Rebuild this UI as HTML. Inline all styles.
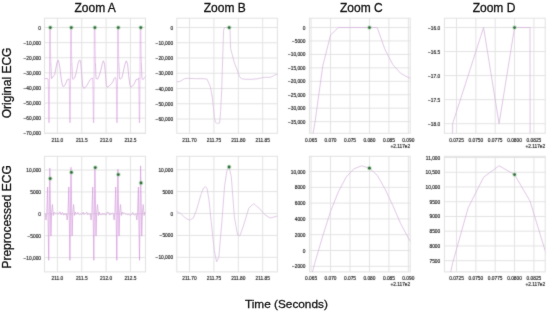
<!DOCTYPE html>
<html><head><meta charset="utf-8"><style>
html,body{margin:0;padding:0;background:#fff;width:550px;height:313px;overflow:hidden}
svg{display:block}
.tk{font-family:"Liberation Sans",sans-serif;font-size:4.8px;fill:#1a1a1a;stroke:#1a1a1a;stroke-width:0.15px}
.tt{font-family:"Liberation Sans",sans-serif;font-size:12px;fill:#111;stroke:#111;stroke-width:0.3px}
</style></head><body>
<svg width="550" height="313" viewBox="0 0 550 313">
<defs><filter id="bl2" x="0" y="0" width="550" height="313" filterUnits="userSpaceOnUse" color-interpolation-filters="sRGB"><feConvolveMatrix order="3" kernelMatrix="0.01 0.05 0.01 0.05 0.76 0.05 0.01 0.05 0.01" divisor="1" edgeMode="duplicate"/></filter><filter id="bl" x="0" y="0" width="550" height="313" filterUnits="userSpaceOnUse" color-interpolation-filters="sRGB"><feConvolveMatrix order="3" kernelMatrix="0.02 0.08 0.02 0.08 0.6 0.08 0.02 0.08 0.02" divisor="1" edgeMode="duplicate"/></filter><clipPath id="cA1"><rect x="44.5" y="18.2" width="101" height="115.1"/></clipPath><clipPath id="cB1"><rect x="176.8" y="18.2" width="100.6" height="115.1"/></clipPath><clipPath id="cC1"><rect x="309.4" y="18.2" width="100.8" height="115.1"/></clipPath><clipPath id="cD1"><rect x="444.4" y="18.2" width="100.8" height="115.1"/></clipPath><clipPath id="cA2"><rect x="44.5" y="156.3" width="101" height="115.6"/></clipPath><clipPath id="cB2"><rect x="176.8" y="156.3" width="100.6" height="115.6"/></clipPath><clipPath id="cC2"><rect x="309.4" y="156.3" width="100.8" height="115.6"/></clipPath><clipPath id="cD2"><rect x="444.4" y="156.3" width="100.8" height="115.6"/></clipPath></defs>
<rect width="550" height="313" fill="#fff"/>
<g filter="url(#bl)">
<line x1="57.4" y1="18.2" x2="57.4" y2="133.3" stroke="#e3e3e3" stroke-width="1"/>
<line x1="81.75" y1="18.2" x2="81.75" y2="133.3" stroke="#e3e3e3" stroke-width="1"/>
<line x1="106.1" y1="18.2" x2="106.1" y2="133.3" stroke="#e3e3e3" stroke-width="1"/>
<line x1="130.45" y1="18.2" x2="130.45" y2="133.3" stroke="#e3e3e3" stroke-width="1"/>
<line x1="44.5" y1="27.5" x2="145.5" y2="27.5" stroke="#e3e3e3" stroke-width="1"/>
<line x1="44.5" y1="42.61" x2="145.5" y2="42.61" stroke="#e3e3e3" stroke-width="1"/>
<line x1="44.5" y1="57.72" x2="145.5" y2="57.72" stroke="#e3e3e3" stroke-width="1"/>
<line x1="44.5" y1="72.83" x2="145.5" y2="72.83" stroke="#e3e3e3" stroke-width="1"/>
<line x1="44.5" y1="87.94" x2="145.5" y2="87.94" stroke="#e3e3e3" stroke-width="1"/>
<line x1="44.5" y1="103.05" x2="145.5" y2="103.05" stroke="#e3e3e3" stroke-width="1"/>
<line x1="44.5" y1="118.16" x2="145.5" y2="118.16" stroke="#e3e3e3" stroke-width="1"/>
<line x1="44.5" y1="133.27" x2="145.5" y2="133.27" stroke="#e3e3e3" stroke-width="1"/>
<rect x="44.5" y="18.2" width="101" height="115.1" fill="none" stroke="#e2e2e2" stroke-width="1"/>
<text x="57.4" y="141.5" text-anchor="middle" class="tk">211.0</text>
<text x="81.75" y="141.5" text-anchor="middle" class="tk">211.5</text>
<text x="106.1" y="141.5" text-anchor="middle" class="tk">212.0</text>
<text x="130.45" y="141.5" text-anchor="middle" class="tk">212.5</text>
<text x="41" y="29.5" text-anchor="end" class="tk">0</text>
<text x="41" y="44.61" text-anchor="end" class="tk">−10,000</text>
<text x="41" y="59.72" text-anchor="end" class="tk">−20,000</text>
<text x="41" y="74.83" text-anchor="end" class="tk">−30,000</text>
<text x="41" y="89.94" text-anchor="end" class="tk">−40,000</text>
<text x="41" y="105.05" text-anchor="end" class="tk">−50,000</text>
<text x="41" y="120.16" text-anchor="end" class="tk">−60,000</text>
<text x="41" y="135.27" text-anchor="end" class="tk">−70,000</text>
<line x1="189.5" y1="18.2" x2="189.5" y2="133.3" stroke="#e3e3e3" stroke-width="1"/>
<line x1="213.9" y1="18.2" x2="213.9" y2="133.3" stroke="#e3e3e3" stroke-width="1"/>
<line x1="238.3" y1="18.2" x2="238.3" y2="133.3" stroke="#e3e3e3" stroke-width="1"/>
<line x1="262.7" y1="18.2" x2="262.7" y2="133.3" stroke="#e3e3e3" stroke-width="1"/>
<line x1="176.8" y1="27.5" x2="277.4" y2="27.5" stroke="#e3e3e3" stroke-width="1"/>
<line x1="176.8" y1="42.75" x2="277.4" y2="42.75" stroke="#e3e3e3" stroke-width="1"/>
<line x1="176.8" y1="58" x2="277.4" y2="58" stroke="#e3e3e3" stroke-width="1"/>
<line x1="176.8" y1="73.25" x2="277.4" y2="73.25" stroke="#e3e3e3" stroke-width="1"/>
<line x1="176.8" y1="88.5" x2="277.4" y2="88.5" stroke="#e3e3e3" stroke-width="1"/>
<line x1="176.8" y1="103.75" x2="277.4" y2="103.75" stroke="#e3e3e3" stroke-width="1"/>
<line x1="176.8" y1="119" x2="277.4" y2="119" stroke="#e3e3e3" stroke-width="1"/>
<rect x="176.8" y="18.2" width="100.6" height="115.1" fill="none" stroke="#e2e2e2" stroke-width="1"/>
<text x="189.5" y="141.5" text-anchor="middle" class="tk">211.70</text>
<text x="213.9" y="141.5" text-anchor="middle" class="tk">211.75</text>
<text x="238.3" y="141.5" text-anchor="middle" class="tk">211.80</text>
<text x="262.7" y="141.5" text-anchor="middle" class="tk">211.85</text>
<text x="173.1" y="29.5" text-anchor="end" class="tk">0</text>
<text x="173.1" y="44.75" text-anchor="end" class="tk">−10,000</text>
<text x="173.1" y="60" text-anchor="end" class="tk">−20,000</text>
<text x="173.1" y="75.25" text-anchor="end" class="tk">−30,000</text>
<text x="173.1" y="90.5" text-anchor="end" class="tk">−40,000</text>
<text x="173.1" y="105.75" text-anchor="end" class="tk">−50,000</text>
<text x="173.1" y="121" text-anchor="end" class="tk">−60,000</text>
<line x1="311.1" y1="18.2" x2="311.1" y2="133.3" stroke="#e3e3e3" stroke-width="1"/>
<line x1="330.55" y1="18.2" x2="330.55" y2="133.3" stroke="#e3e3e3" stroke-width="1"/>
<line x1="350" y1="18.2" x2="350" y2="133.3" stroke="#e3e3e3" stroke-width="1"/>
<line x1="369.45" y1="18.2" x2="369.45" y2="133.3" stroke="#e3e3e3" stroke-width="1"/>
<line x1="388.9" y1="18.2" x2="388.9" y2="133.3" stroke="#e3e3e3" stroke-width="1"/>
<line x1="408.35" y1="18.2" x2="408.35" y2="133.3" stroke="#e3e3e3" stroke-width="1"/>
<line x1="309.4" y1="27.5" x2="410.2" y2="27.5" stroke="#e3e3e3" stroke-width="1"/>
<line x1="309.4" y1="40.95" x2="410.2" y2="40.95" stroke="#e3e3e3" stroke-width="1"/>
<line x1="309.4" y1="54.4" x2="410.2" y2="54.4" stroke="#e3e3e3" stroke-width="1"/>
<line x1="309.4" y1="67.85" x2="410.2" y2="67.85" stroke="#e3e3e3" stroke-width="1"/>
<line x1="309.4" y1="81.3" x2="410.2" y2="81.3" stroke="#e3e3e3" stroke-width="1"/>
<line x1="309.4" y1="94.75" x2="410.2" y2="94.75" stroke="#e3e3e3" stroke-width="1"/>
<line x1="309.4" y1="108.2" x2="410.2" y2="108.2" stroke="#e3e3e3" stroke-width="1"/>
<line x1="309.4" y1="121.65" x2="410.2" y2="121.65" stroke="#e3e3e3" stroke-width="1"/>
<rect x="309.4" y="18.2" width="100.8" height="115.1" fill="none" stroke="#e2e2e2" stroke-width="1"/>
<text x="311.1" y="141.5" text-anchor="middle" class="tk">0.065</text>
<text x="330.55" y="141.5" text-anchor="middle" class="tk">0.070</text>
<text x="350" y="141.5" text-anchor="middle" class="tk">0.075</text>
<text x="369.45" y="141.5" text-anchor="middle" class="tk">0.080</text>
<text x="388.9" y="141.5" text-anchor="middle" class="tk">0.085</text>
<text x="408.35" y="141.5" text-anchor="middle" class="tk">0.090</text>
<text x="305.4" y="29.5" text-anchor="end" class="tk">0</text>
<text x="305.4" y="42.95" text-anchor="end" class="tk">−5000</text>
<text x="305.4" y="56.4" text-anchor="end" class="tk">−10,000</text>
<text x="305.4" y="69.85" text-anchor="end" class="tk">−15,000</text>
<text x="305.4" y="83.3" text-anchor="end" class="tk">−20,000</text>
<text x="305.4" y="96.75" text-anchor="end" class="tk">−25,000</text>
<text x="305.4" y="110.2" text-anchor="end" class="tk">−30,000</text>
<text x="305.4" y="123.65" text-anchor="end" class="tk">−35,000</text>
<text x="410.2" y="147.8" text-anchor="end" class="tk">+2.117e2</text>
<line x1="456.5" y1="18.2" x2="456.5" y2="133.3" stroke="#e3e3e3" stroke-width="1"/>
<line x1="475.85" y1="18.2" x2="475.85" y2="133.3" stroke="#e3e3e3" stroke-width="1"/>
<line x1="495.2" y1="18.2" x2="495.2" y2="133.3" stroke="#e3e3e3" stroke-width="1"/>
<line x1="514.55" y1="18.2" x2="514.55" y2="133.3" stroke="#e3e3e3" stroke-width="1"/>
<line x1="533.9" y1="18.2" x2="533.9" y2="133.3" stroke="#e3e3e3" stroke-width="1"/>
<line x1="444.4" y1="27.5" x2="545.2" y2="27.5" stroke="#e3e3e3" stroke-width="1"/>
<line x1="444.4" y1="51.55" x2="545.2" y2="51.55" stroke="#e3e3e3" stroke-width="1"/>
<line x1="444.4" y1="75.6" x2="545.2" y2="75.6" stroke="#e3e3e3" stroke-width="1"/>
<line x1="444.4" y1="99.65" x2="545.2" y2="99.65" stroke="#e3e3e3" stroke-width="1"/>
<line x1="444.4" y1="123.7" x2="545.2" y2="123.7" stroke="#e3e3e3" stroke-width="1"/>
<rect x="444.4" y="18.2" width="100.8" height="115.1" fill="none" stroke="#e2e2e2" stroke-width="1"/>
<text x="456.5" y="141.5" text-anchor="middle" class="tk">0.0725</text>
<text x="475.85" y="141.5" text-anchor="middle" class="tk">0.0750</text>
<text x="495.2" y="141.5" text-anchor="middle" class="tk">0.0775</text>
<text x="514.55" y="141.5" text-anchor="middle" class="tk">0.0800</text>
<text x="533.9" y="141.5" text-anchor="middle" class="tk">0.0825</text>
<text x="440.2" y="29.5" text-anchor="end" class="tk">−16.0</text>
<text x="440.2" y="53.55" text-anchor="end" class="tk">−16.5</text>
<text x="440.2" y="77.6" text-anchor="end" class="tk">−17.0</text>
<text x="440.2" y="101.65" text-anchor="end" class="tk">−17.5</text>
<text x="440.2" y="125.7" text-anchor="end" class="tk">−18.0</text>
<text x="545.2" y="147.8" text-anchor="end" class="tk">+2.117e2</text>
<line x1="57.4" y1="156.3" x2="57.4" y2="271.9" stroke="#e3e3e3" stroke-width="1"/>
<line x1="81.75" y1="156.3" x2="81.75" y2="271.9" stroke="#e3e3e3" stroke-width="1"/>
<line x1="106.1" y1="156.3" x2="106.1" y2="271.9" stroke="#e3e3e3" stroke-width="1"/>
<line x1="130.45" y1="156.3" x2="130.45" y2="271.9" stroke="#e3e3e3" stroke-width="1"/>
<line x1="44.5" y1="170" x2="145.5" y2="170" stroke="#e3e3e3" stroke-width="1"/>
<line x1="44.5" y1="191.9" x2="145.5" y2="191.9" stroke="#e3e3e3" stroke-width="1"/>
<line x1="44.5" y1="213.8" x2="145.5" y2="213.8" stroke="#e3e3e3" stroke-width="1"/>
<line x1="44.5" y1="235.7" x2="145.5" y2="235.7" stroke="#e3e3e3" stroke-width="1"/>
<line x1="44.5" y1="257.6" x2="145.5" y2="257.6" stroke="#e3e3e3" stroke-width="1"/>
<rect x="44.5" y="156.3" width="101" height="115.6" fill="none" stroke="#e2e2e2" stroke-width="1"/>
<text x="57.4" y="280.1" text-anchor="middle" class="tk">211.0</text>
<text x="81.75" y="280.1" text-anchor="middle" class="tk">211.5</text>
<text x="106.1" y="280.1" text-anchor="middle" class="tk">212.0</text>
<text x="130.45" y="280.1" text-anchor="middle" class="tk">212.5</text>
<text x="41" y="172" text-anchor="end" class="tk">10,000</text>
<text x="41" y="193.9" text-anchor="end" class="tk">5000</text>
<text x="41" y="215.8" text-anchor="end" class="tk">0</text>
<text x="41" y="237.7" text-anchor="end" class="tk">−5000</text>
<text x="41" y="259.6" text-anchor="end" class="tk">−10,000</text>
<line x1="189.5" y1="156.3" x2="189.5" y2="271.9" stroke="#e3e3e3" stroke-width="1"/>
<line x1="213.9" y1="156.3" x2="213.9" y2="271.9" stroke="#e3e3e3" stroke-width="1"/>
<line x1="238.3" y1="156.3" x2="238.3" y2="271.9" stroke="#e3e3e3" stroke-width="1"/>
<line x1="262.7" y1="156.3" x2="262.7" y2="271.9" stroke="#e3e3e3" stroke-width="1"/>
<line x1="176.8" y1="169.7" x2="277.4" y2="169.7" stroke="#e3e3e3" stroke-width="1"/>
<line x1="176.8" y1="191.6" x2="277.4" y2="191.6" stroke="#e3e3e3" stroke-width="1"/>
<line x1="176.8" y1="213.5" x2="277.4" y2="213.5" stroke="#e3e3e3" stroke-width="1"/>
<line x1="176.8" y1="235.4" x2="277.4" y2="235.4" stroke="#e3e3e3" stroke-width="1"/>
<line x1="176.8" y1="257.3" x2="277.4" y2="257.3" stroke="#e3e3e3" stroke-width="1"/>
<rect x="176.8" y="156.3" width="100.6" height="115.6" fill="none" stroke="#e2e2e2" stroke-width="1"/>
<text x="189.5" y="280.1" text-anchor="middle" class="tk">211.70</text>
<text x="213.9" y="280.1" text-anchor="middle" class="tk">211.75</text>
<text x="238.3" y="280.1" text-anchor="middle" class="tk">211.80</text>
<text x="262.7" y="280.1" text-anchor="middle" class="tk">211.85</text>
<text x="173.1" y="171.7" text-anchor="end" class="tk">10,000</text>
<text x="173.1" y="193.6" text-anchor="end" class="tk">5000</text>
<text x="173.1" y="215.5" text-anchor="end" class="tk">0</text>
<text x="173.1" y="237.4" text-anchor="end" class="tk">−5000</text>
<text x="173.1" y="259.3" text-anchor="end" class="tk">−10,000</text>
<line x1="311.1" y1="156.3" x2="311.1" y2="271.9" stroke="#e3e3e3" stroke-width="1"/>
<line x1="330.55" y1="156.3" x2="330.55" y2="271.9" stroke="#e3e3e3" stroke-width="1"/>
<line x1="350" y1="156.3" x2="350" y2="271.9" stroke="#e3e3e3" stroke-width="1"/>
<line x1="369.45" y1="156.3" x2="369.45" y2="271.9" stroke="#e3e3e3" stroke-width="1"/>
<line x1="388.9" y1="156.3" x2="388.9" y2="271.9" stroke="#e3e3e3" stroke-width="1"/>
<line x1="408.35" y1="156.3" x2="408.35" y2="271.9" stroke="#e3e3e3" stroke-width="1"/>
<line x1="309.4" y1="171.5" x2="410.2" y2="171.5" stroke="#e3e3e3" stroke-width="1"/>
<line x1="309.4" y1="187.3" x2="410.2" y2="187.3" stroke="#e3e3e3" stroke-width="1"/>
<line x1="309.4" y1="203.1" x2="410.2" y2="203.1" stroke="#e3e3e3" stroke-width="1"/>
<line x1="309.4" y1="218.9" x2="410.2" y2="218.9" stroke="#e3e3e3" stroke-width="1"/>
<line x1="309.4" y1="234.7" x2="410.2" y2="234.7" stroke="#e3e3e3" stroke-width="1"/>
<line x1="309.4" y1="250.5" x2="410.2" y2="250.5" stroke="#e3e3e3" stroke-width="1"/>
<line x1="309.4" y1="266.3" x2="410.2" y2="266.3" stroke="#e3e3e3" stroke-width="1"/>
<rect x="309.4" y="156.3" width="100.8" height="115.6" fill="none" stroke="#e2e2e2" stroke-width="1"/>
<text x="311.1" y="280.1" text-anchor="middle" class="tk">0.065</text>
<text x="330.55" y="280.1" text-anchor="middle" class="tk">0.070</text>
<text x="350" y="280.1" text-anchor="middle" class="tk">0.075</text>
<text x="369.45" y="280.1" text-anchor="middle" class="tk">0.080</text>
<text x="388.9" y="280.1" text-anchor="middle" class="tk">0.085</text>
<text x="408.35" y="280.1" text-anchor="middle" class="tk">0.090</text>
<text x="305.4" y="173.5" text-anchor="end" class="tk">10,000</text>
<text x="305.4" y="189.3" text-anchor="end" class="tk">8000</text>
<text x="305.4" y="205.1" text-anchor="end" class="tk">6000</text>
<text x="305.4" y="220.9" text-anchor="end" class="tk">4000</text>
<text x="305.4" y="236.7" text-anchor="end" class="tk">2000</text>
<text x="305.4" y="252.5" text-anchor="end" class="tk">0</text>
<text x="305.4" y="268.3" text-anchor="end" class="tk">−2000</text>
<text x="410.2" y="286.4" text-anchor="end" class="tk">+2.117e2</text>
<line x1="456.5" y1="156.3" x2="456.5" y2="271.9" stroke="#e3e3e3" stroke-width="1"/>
<line x1="475.85" y1="156.3" x2="475.85" y2="271.9" stroke="#e3e3e3" stroke-width="1"/>
<line x1="495.2" y1="156.3" x2="495.2" y2="271.9" stroke="#e3e3e3" stroke-width="1"/>
<line x1="514.55" y1="156.3" x2="514.55" y2="271.9" stroke="#e3e3e3" stroke-width="1"/>
<line x1="533.9" y1="156.3" x2="533.9" y2="271.9" stroke="#e3e3e3" stroke-width="1"/>
<line x1="444.4" y1="157.5" x2="545.2" y2="157.5" stroke="#e3e3e3" stroke-width="1"/>
<line x1="444.4" y1="172.24" x2="545.2" y2="172.24" stroke="#e3e3e3" stroke-width="1"/>
<line x1="444.4" y1="186.98" x2="545.2" y2="186.98" stroke="#e3e3e3" stroke-width="1"/>
<line x1="444.4" y1="201.72" x2="545.2" y2="201.72" stroke="#e3e3e3" stroke-width="1"/>
<line x1="444.4" y1="216.46" x2="545.2" y2="216.46" stroke="#e3e3e3" stroke-width="1"/>
<line x1="444.4" y1="231.2" x2="545.2" y2="231.2" stroke="#e3e3e3" stroke-width="1"/>
<line x1="444.4" y1="245.94" x2="545.2" y2="245.94" stroke="#e3e3e3" stroke-width="1"/>
<line x1="444.4" y1="260.68" x2="545.2" y2="260.68" stroke="#e3e3e3" stroke-width="1"/>
<rect x="444.4" y="156.3" width="100.8" height="115.6" fill="none" stroke="#e2e2e2" stroke-width="1"/>
<text x="456.5" y="280.1" text-anchor="middle" class="tk">0.0725</text>
<text x="475.85" y="280.1" text-anchor="middle" class="tk">0.0750</text>
<text x="495.2" y="280.1" text-anchor="middle" class="tk">0.0775</text>
<text x="514.55" y="280.1" text-anchor="middle" class="tk">0.0800</text>
<text x="533.9" y="280.1" text-anchor="middle" class="tk">0.0825</text>
<text x="440.2" y="159.5" text-anchor="end" class="tk">11,000</text>
<text x="440.2" y="174.24" text-anchor="end" class="tk">10,500</text>
<text x="440.2" y="188.98" text-anchor="end" class="tk">10,000</text>
<text x="440.2" y="203.72" text-anchor="end" class="tk">9500</text>
<text x="440.2" y="218.46" text-anchor="end" class="tk">9000</text>
<text x="440.2" y="233.2" text-anchor="end" class="tk">8500</text>
<text x="440.2" y="247.94" text-anchor="end" class="tk">8000</text>
<text x="440.2" y="262.68" text-anchor="end" class="tk">7500</text>
<text x="545.2" y="286.4" text-anchor="end" class="tk">+2.117e2</text>
<polyline clip-path="url(#cA1)" points="44,78.6 47.5,78.6 48.1,79" fill="none" stroke="#d4a8da" stroke-width="0.8" stroke-linejoin="round"/>
<polyline clip-path="url(#cA1)" points="50.8,62.9 51.1,70 51.3,76.2 51.5,78.7 51.8,78 52.9,76.9 54.6,74.6 55.8,68.8 56.9,63 58.1,60.2 58.9,62.5 60,68.5 61,77.5 61.9,83 62.8,86.3 63.8,86.4 65,85.3 66.1,82.6 67.3,79.7 68.4,79.2 69.3,79.2 69.1,79" fill="none" stroke="#d4a8da" stroke-width="0.8" stroke-linejoin="round"/>
<polyline clip-path="url(#cA1)" points="71.8,62.9 72.1,70 72.3,76.2 72.5,78.7 72.9,79.4 74.6,78 76.3,72.3 78.1,63 79.4,60.2 80.6,60.8 81.5,72.3 82.7,86 83.8,88.4 85.5,87.2 87.3,84.9 88.4,82.6 90.1,79.7 91.3,78.6 92.4,78 92.7,79" fill="none" stroke="#d4a8da" stroke-width="0.8" stroke-linejoin="round"/>
<polyline clip-path="url(#cA1)" points="95.4,62.9 95.7,70 95.9,76.2 96.1,78.7 96.6,78.6 97.5,79.2 99.2,75.7 100.9,70 102.3,63.6 103.4,60.8 104.6,64.2 105.5,74.6 106.4,85.5 107.2,87.2 109,86.1 111.3,83.8 113,81.5 114.1,78.6 115.3,77.4 116.1,79" fill="none" stroke="#d4a8da" stroke-width="0.8" stroke-linejoin="round"/>
<polyline clip-path="url(#cA1)" points="118.8,62.9 119.1,70 119.3,76.2 119.5,78.7 119.7,78.5 120.5,79.2 122.2,76.9 123.9,68.8 125.3,63 126.4,60.8 127.6,64.2 128.7,75.7 129.9,84.9 130.8,87.2 132.5,86.1 134.3,83.8 136,79.7 137.7,79.2 138.9,78 138.6,79" fill="none" stroke="#d4a8da" stroke-width="0.8" stroke-linejoin="round"/>
<polyline clip-path="url(#cA1)" points="141.3,62.9 141.6,70 141.8,76.2 142,78.7 142.9,79.7 144.6,77.4 146,76" fill="none" stroke="#d4a8da" stroke-width="0.8" stroke-linejoin="round"/>
<polyline clip-path="url(#cA1)" points="48.1,79 48.4,88 48.65,107 48.8,122.3 49.1,122.9 49.25,111.5 49.5,70 49.7,28.4 49.8,27.5 50.3,27.6 50.38,29.4 50.45,48.5 50.8,62.9" fill="none" stroke="#d69ade" stroke-width="0.55" stroke-linejoin="round"/>
<polyline clip-path="url(#cA1)" points="69.1,79 69.4,88 69.65,107 69.8,122.3 70.1,122.9 70.25,111.5 70.5,70 70.7,28.4 70.8,27.5 71.3,27.6 71.38,29.4 71.45,48.5 71.8,62.9" fill="none" stroke="#d69ade" stroke-width="0.55" stroke-linejoin="round"/>
<polyline clip-path="url(#cA1)" points="92.7,79 93,88 93.25,107 93.4,122.3 93.7,122.9 93.85,111.5 94.1,70 94.3,28.4 94.4,27.5 94.9,27.6 94.98,29.4 95.05,48.5 95.4,62.9" fill="none" stroke="#d69ade" stroke-width="0.55" stroke-linejoin="round"/>
<polyline clip-path="url(#cA1)" points="116.1,79 116.4,88 116.65,107 116.8,122.3 117.1,122.9 117.25,111.5 117.5,70 117.7,28.4 117.8,27.5 118.3,27.6 118.38,29.4 118.45,48.5 118.8,62.9" fill="none" stroke="#d69ade" stroke-width="0.55" stroke-linejoin="round"/>
<polyline clip-path="url(#cA1)" points="138.6,79 138.9,88 139.15,107 139.3,122.3 139.6,122.9 139.75,111.5 140,70 140.2,28.4 140.3,27.5 140.8,27.6 140.88,29.4 140.95,48.5 141.3,62.9" fill="none" stroke="#d69ade" stroke-width="0.55" stroke-linejoin="round"/>
<circle cx="50.3" cy="27.6" r="2.4" fill="#9ad49a" fill-opacity="0.5"/>
<circle cx="50.3" cy="27.6" r="1.4" fill="#2f6a3c"/>
<circle cx="71.3" cy="27.6" r="2.4" fill="#9ad49a" fill-opacity="0.5"/>
<circle cx="71.3" cy="27.6" r="1.4" fill="#2f6a3c"/>
<circle cx="94.9" cy="27.6" r="2.4" fill="#9ad49a" fill-opacity="0.5"/>
<circle cx="94.9" cy="27.6" r="1.4" fill="#2f6a3c"/>
<circle cx="118.3" cy="27.6" r="2.4" fill="#9ad49a" fill-opacity="0.5"/>
<circle cx="118.3" cy="27.6" r="1.4" fill="#2f6a3c"/>
<circle cx="140.8" cy="27.6" r="2.4" fill="#9ad49a" fill-opacity="0.5"/>
<circle cx="140.8" cy="27.6" r="1.4" fill="#2f6a3c"/>
<polyline clip-path="url(#cB1)" points="176,81.9 180.2,81.4 184.3,78.7 187.4,78.3 195.7,78.7 204,78.7 207.2,79.3 210.3,86.6 212.3,97 213.4,107.3 214.4,117.7 215.5,122.3 217.5,123.5 219.6,122.9 220.6,111.5 221.7,90.7 222.3,70 223.6,30 224.6,27.5 229.2,27.6 230,29.4 230.6,48.5 234.4,62.9 237.2,70 239.3,76.2 241.4,78.7 245.5,79.3 251.8,79.3 258,78.7 264.2,77.3 270.4,77.3 274.6,75.2 278,74" fill="none" stroke="#d6b8dc" stroke-width="0.75" stroke-linejoin="round"/>
<circle cx="229.2" cy="27.6" r="2.4" fill="#9ad49a" fill-opacity="0.5"/>
<circle cx="229.2" cy="27.6" r="1.4" fill="#2f6a3c"/>
<polyline clip-path="url(#cC1)" points="299.43,188.9 307.21,167.38 314.99,122.19 322.77,65.97 330.55,35.03 338.33,27.55 346.11,27.55 353.89,27.54 361.67,27.55 369.45,27.54 377.23,27.54 385.01,49.56 392.79,64.62 400.57,73.23 408.35,77.53 416.13,79.95" fill="none" stroke="#d6b2dc" stroke-width="0.75" stroke-linejoin="round"/>
<circle cx="369.45" cy="27.6" r="2.4" fill="#9ad49a" fill-opacity="0.5"/>
<circle cx="369.45" cy="27.6" r="1.4" fill="#2f6a3c"/>
<polyline clip-path="url(#cD1)" points="375.23,20000 390.71,20000 406.19,20000 421.67,20000 437.15,20000 452.63,123.7 468.11,75.6 483.59,27.5 499.07,123.7 514.55,27.5 530.03,27.5 545.51,20000 560.99,20000 576.47,20000 591.95,20000 607.43,20000" fill="none" stroke="#d6b2dc" stroke-width="0.75" stroke-linejoin="round"/>
<circle cx="514.55" cy="27.6" r="2.4" fill="#9ad49a" fill-opacity="0.5"/>
<circle cx="514.55" cy="27.6" r="1.4" fill="#2f6a3c"/>
<polyline clip-path="url(#cA2)" points="44,213.8 45.2,213.5 46,220 46.8,212.5" fill="none" stroke="#d4a8da" stroke-width="0.75" stroke-linejoin="round"/>
<polyline clip-path="url(#cA2)" points="46.8,212.5 47.6,187 48.7,260.3 49.8,168.1 50.9,236 51.6,213" fill="none" stroke="#d69ade" stroke-width="0.7" stroke-linejoin="round"/>
<polyline clip-path="url(#cA2)" points="51.6,213 52.4,204.5 53.3,215.5 54.1,212 54.8,212.76 55.7,213.74 56.6,213.18 57.5,213.93 58.4,214 59.3,212.21 60.2,212.04 61.1,214.68 62,212.83 62.9,212.75 63.8,215.19 64.7,213.5 65.6,214.68 66.4,213.5 67.2,220 68,212.5" fill="none" stroke="#d4a8da" stroke-width="0.75" stroke-linejoin="round"/>
<polyline clip-path="url(#cA2)" points="68,212.5 68.8,187 69.9,260.3 71,167.4 72.1,236 72.8,213" fill="none" stroke="#d69ade" stroke-width="0.7" stroke-linejoin="round"/>
<polyline clip-path="url(#cA2)" points="72.8,213 73.6,204.5 74.5,215.5 75.3,212 76,213.52 76.9,214.05 77.8,212.48 78.7,214.03 79.6,214.78 80.5,213.67 81.4,214.37 82.3,214.15 83.2,212.2 84.1,214.43 85,213.89 85.9,212.96 86.8,212.1 87.7,214.77 88.6,213.51 89.5,214.3 90.3,213.5 91.1,220 91.9,212.5" fill="none" stroke="#d4a8da" stroke-width="0.75" stroke-linejoin="round"/>
<polyline clip-path="url(#cA2)" points="91.9,212.5 92.7,187 93.8,260.3 94.9,167.3 96,236 96.7,213" fill="none" stroke="#d69ade" stroke-width="0.7" stroke-linejoin="round"/>
<polyline clip-path="url(#cA2)" points="96.7,213 97.5,204.5 98.4,215.5 99.2,212 99.9,214.81 100.8,214.29 101.7,214.95 102.6,213.26 103.5,214.56 104.4,213.42 105.3,214.99 106.2,214.81 107.1,212.31 108,212.44 108.9,212.69 109.8,215.09 110.7,213.4 111.6,214.01 112.5,212.96 113.3,213.5 114.1,220 114.9,212.5" fill="none" stroke="#d4a8da" stroke-width="0.75" stroke-linejoin="round"/>
<polyline clip-path="url(#cA2)" points="114.9,212.5 115.7,187 116.8,260.3 117.9,169.3 119,236 119.7,213" fill="none" stroke="#d69ade" stroke-width="0.7" stroke-linejoin="round"/>
<polyline clip-path="url(#cA2)" points="119.7,213 120.5,204.5 121.4,215.5 122.2,212 122.9,213.62 123.8,213.23 124.7,213.12 125.6,213.87 126.5,213.87 127.4,214.89 128.3,214.18 129.2,214.97 130.1,214.74 131,215.17 131.9,214.15 132.8,212.52 133.7,214.75 134.6,215.09 136,213.5 136.8,220 137.6,212.5" fill="none" stroke="#d4a8da" stroke-width="0.75" stroke-linejoin="round"/>
<polyline clip-path="url(#cA2)" points="137.6,212.5 138.4,187 139.5,260.3 140.6,165.9 141.7,236 142.4,213" fill="none" stroke="#d69ade" stroke-width="0.7" stroke-linejoin="round"/>
<polyline clip-path="url(#cA2)" points="142.4,213 143.2,204.5 144.1,215.5 144.9,212 146,213.8" fill="none" stroke="#d4a8da" stroke-width="0.75" stroke-linejoin="round"/>
<circle cx="50.2" cy="178.6" r="2.4" fill="#9ad49a" fill-opacity="0.5"/>
<circle cx="50.2" cy="178.6" r="1.4" fill="#2f6a3c"/>
<circle cx="71.4" cy="172.4" r="2.4" fill="#9ad49a" fill-opacity="0.5"/>
<circle cx="71.4" cy="172.4" r="1.4" fill="#2f6a3c"/>
<circle cx="95.3" cy="167.6" r="2.4" fill="#9ad49a" fill-opacity="0.5"/>
<circle cx="95.3" cy="167.6" r="1.4" fill="#2f6a3c"/>
<circle cx="118.3" cy="174.6" r="2.4" fill="#9ad49a" fill-opacity="0.5"/>
<circle cx="118.3" cy="174.6" r="1.4" fill="#2f6a3c"/>
<circle cx="141" cy="183" r="2.4" fill="#9ad49a" fill-opacity="0.5"/>
<circle cx="141" cy="183" r="1.4" fill="#2f6a3c"/>
<polyline clip-path="url(#cB2)" points="176,211 177.2,211.7 180.8,213.5 185.3,218 189.7,220.2 193.3,218 196.4,210.4 200.9,194.7 203.5,188 205.4,186.7 207,188.5 209,200 211.2,221.6 214.3,250.6 216.6,261.8 218.8,257.3 221.9,221.6 224.6,185.8 227,170 229.1,167 231.3,176.8 234.4,217.1 237.6,235 239.8,235.9 243.4,226 248.8,208.1 253.7,203.7 259,208.1 264.9,214.8 270.2,218 276.9,216.2 278.5,215.5" fill="none" stroke="#d6b8dc" stroke-width="0.75" stroke-linejoin="round"/>
<circle cx="229.1" cy="167" r="2.4" fill="#9ad49a" fill-opacity="0.5"/>
<circle cx="229.1" cy="167" r="1.4" fill="#2f6a3c"/>
<polyline clip-path="url(#cC2)" points="299.43,321.6 307.21,291.58 314.99,262.35 322.77,235.88 330.55,211.4 338.33,191.88 346.11,177.11 353.89,168.89 361.67,165.81 369.45,168.18 377.23,175.29 385.01,188.88 392.79,205.47 400.57,223.48 408.35,238.02 416.13,250.5" fill="none" stroke="#d6b2dc" stroke-width="0.75" stroke-linejoin="round"/>
<circle cx="369.45" cy="168.18" r="2.4" fill="#9ad49a" fill-opacity="0.5"/>
<circle cx="369.45" cy="168.18" r="1.4" fill="#2f6a3c"/>
<polyline clip-path="url(#cD2)" points="375.23,747.1 390.71,635.08 406.19,526 421.67,427.24 437.15,335.85 452.63,263.04 468.11,207.91 483.59,177.25 499.07,165.75 514.55,174.6 530.03,201.13 545.51,251.84 560.99,313.74 576.47,380.96 591.95,435.2 607.43,481.78" fill="none" stroke="#d6b2dc" stroke-width="0.75" stroke-linejoin="round"/>
<circle cx="514.55" cy="174.6" r="2.4" fill="#9ad49a" fill-opacity="0.5"/>
<circle cx="514.55" cy="174.6" r="1.4" fill="#2f6a3c"/>
</g>
<g filter="url(#bl2)">
<text x="95.2" y="11.7" text-anchor="middle" class="tt">Zoom A</text>
<text x="224.8" y="11.7" text-anchor="middle" class="tt">Zoom B</text>
<text x="361.3" y="11.7" text-anchor="middle" class="tt">Zoom C</text>
<text x="494" y="11.7" text-anchor="middle" class="tt">Zoom D</text>
<text transform="translate(11.3,82.9) rotate(-90)" text-anchor="middle" class="tt">Original ECG</text>
<text transform="translate(11.3,216.9) rotate(-90)" text-anchor="middle" class="tt">Preprocessed ECG</text>
<text x="286.4" y="307.9" text-anchor="middle" class="tt" style="font-size:11.8px">Time (Seconds)</text>
</g>
</svg>
</body></html>
